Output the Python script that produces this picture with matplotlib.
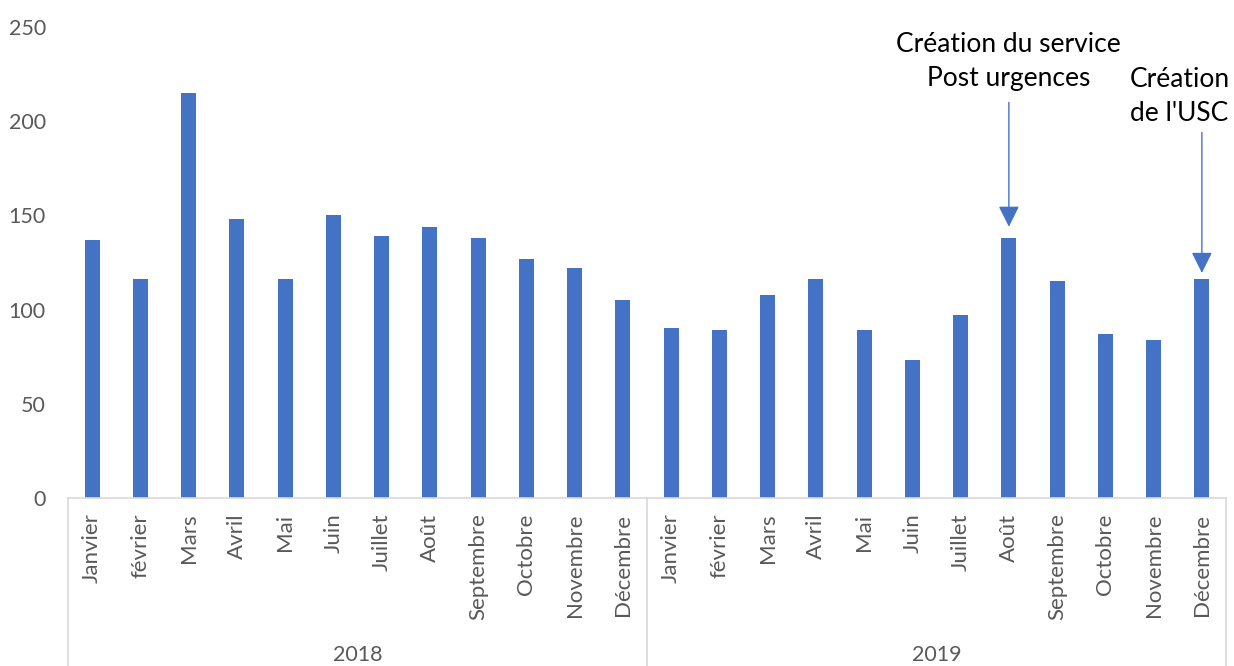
import matplotlib
matplotlib.use("Agg")
import matplotlib.pyplot as plt
import matplotlib.transforms as mtransforms

months = ["Janvier", "février", "Mars", "Avril", "Mai", "Juin", "Juillet",
          "Août", "Septembre", "Octobre", "Novembre", "Décembre"]
years = ["2018", "2019"]
values_2018 = [137, 116, 215, 148, 116, 150, 139, 144, 138, 127, 122, 105]
values_2019 = [90, 89, 108, 116, 89, 73, 97, 138, 115, 87, 84, 116]
y_ticks = [0, 50, 100, 150, 200, 250]

annotations = [
    ("Création du service\nPost urgences", "2019", "Août"),
    ("Création\nde l'USC", "2019", "Décembre"),
]

plt.rcParams['font.family'] = ['Lato', 'DejaVu Sans']

values = values_2018 + values_2019
labels = months + months
x = list(range(len(values)))

fig = plt.figure(figsize=(12.34, 6.66), dpi=100)
ax = fig.add_axes([68 / 1234, (666 - 498) / 666, (1226 - 68) / 1234, (498 - 27) / 666])

bar_color = "#4472C4"
ax.bar(x, values, width=0.31, color=bar_color, zorder=2)
ax.set_xlim(-0.5, len(values) - 0.5)
ax.set_ylim(0, 250)
ax.set_yticks(y_ticks)
ax.tick_params(axis='y', length=0, pad=16, labelsize=15.5, labelcolor="#595959")
ax.tick_params(axis='x', length=0, labelbottom=False)
for s in ["top", "right", "left"]:
    ax.spines[s].set_visible(False)
ax.spines["bottom"].set_color("#D9D9D9")
ax.spines["bottom"].set_linewidth(1.2)

trans = mtransforms.blended_transform_factory(ax.transData, ax.transAxes)
# month labels
for i, lab in enumerate(labels):
    ax.text(i, -0.033, lab, rotation=90, ha='center', va='top', transform=trans,
            fontsize=16, color="#595959")
# separators
ybot = -(666 - 498) / (498 - 27)
for sx in [-0.5, 11.5, 23.5]:
    ax.plot([sx, sx], [0, ybot], transform=trans, color="#D9D9D9", lw=1.2,
            clip_on=False)
# year labels
for k, yr in enumerate(years):
    ax.text(k * 12 + 5.5, -(655 - 498) / (498 - 27), yr, ha='center', va='center',
            transform=trans, fontsize=15.5, color="#595959")

# annotations
for text, yr, mo in annotations:
    idx = years.index(yr) * 12 + months.index(mo)
    v = values[idx]
    if idx == 19:
        ax.annotate("", xy=(idx, v + 6), xytext=(idx, 210),
                    arrowprops=dict(arrowstyle='-|>', color=bar_color, lw=1,
                                    mutation_scale=32, shrinkA=0, shrinkB=0))
        ax.text(idx, 231.5, text, ha='center', va='center', fontsize=19,
                color="black", linespacing=1.45)
    else:
        ax.annotate("", xy=(idx, v + 3.5), xytext=(idx, 194),
                    arrowprops=dict(arrowstyle='-|>', color=bar_color, lw=1,
                                    mutation_scale=32, shrinkA=0, shrinkB=0))
        ax.text(idx - 1.49, 213, text, ha='left', va='center', fontsize=19,
                color="black", linespacing=1.45, multialignment='left')

fig.savefig("out.png", dpi=100)
